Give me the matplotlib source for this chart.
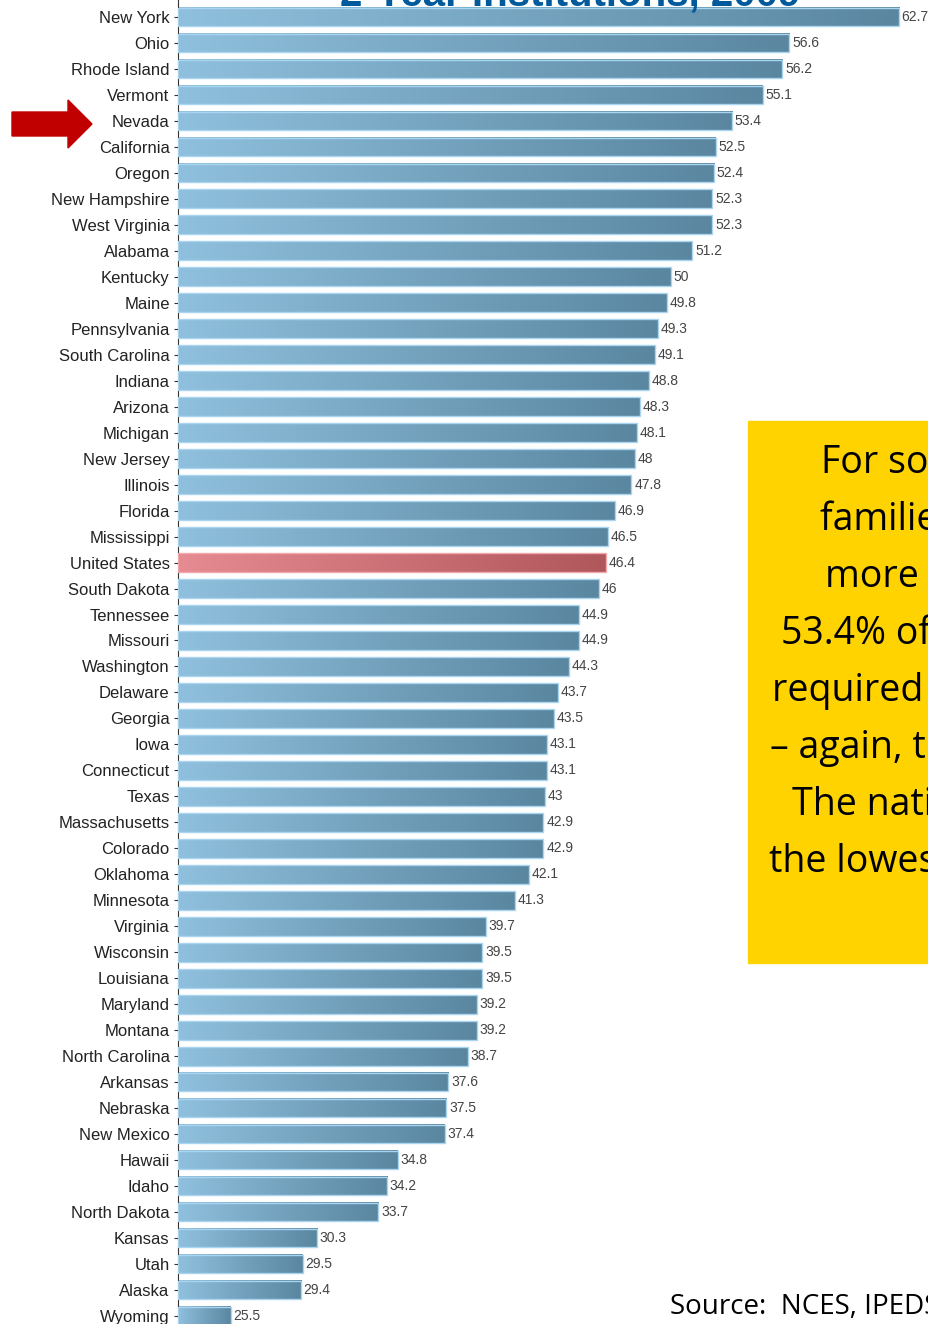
import numpy as np
import matplotlib
matplotlib.use("Agg")
import matplotlib.pyplot as plt
from matplotlib.colors import LinearSegmentedColormap
from matplotlib.patches import Rectangle, Polygon

# data (percent of income)
states = ["New York", "Ohio", "Rhode Island", "Vermont", "Nevada", "California",
          "Oregon", "New Hampshire", "West Virginia", "Alabama", "Kentucky", "Maine",
          "Pennsylvania", "South Carolina", "Indiana", "Arizona", "Michigan",
          "New Jersey", "Illinois", "Florida", "Mississippi", "United States",
          "South Dakota", "Tennessee", "Missouri", "Washington", "Delaware", "Georgia",
          "Iowa", "Connecticut", "Texas", "Massachusetts", "Colorado", "Oklahoma",
          "Minnesota", "Virginia", "Wisconsin", "Louisiana", "Maryland", "Montana",
          "North Carolina", "Arkansas", "Nebraska", "New Mexico", "Hawaii", "Idaho",
          "North Dakota", "Kansas", "Utah", "Alaska", "Wyoming"]
values = [62.7, 56.6, 56.2, 55.1, 53.4, 52.5, 52.4, 52.3, 52.3, 51.2, 50, 49.8,
          49.3, 49.1, 48.8, 48.3, 48.1, 48, 47.8, 46.9, 46.5, 46.4, 46, 44.9, 44.9,
          44.3, 43.7, 43.5, 43.1, 43.1, 43, 42.9, 42.9, 42.1, 41.3, 39.7, 39.5, 39.5,
          39.2, 39.2, 38.7, 37.6, 37.5, 37.4, 34.8, 34.2, 33.7, 30.3, 29.5, 29.4, 25.5]

title = "2-Year Institutions, 2009"
note_lines = ["For some", "families with", "more than", "53.4% of income",
              "required to pay", "– again, the", "The nation", "the lowest"]
source = "Source:  NCES, IPEDS"

W, H = 929, 1324
fig = plt.figure(figsize=(W / 100, H / 100), dpi=100)
ax = fig.add_axes([178 / W, 0, (W - 178) / W, 1])


def px(x, y):
    return (x / W, 1 - y / H)


blue = LinearSegmentedColormap.from_list("b", ["#8fc0dd", "#5a86a0"])
red = LinearSegmentedColormap.from_list("r", ["#e68b91", "#b0575c"])
grad = np.linspace(0, 1, 256).reshape(1, -1)

x0 = 22.55
h = 0.72
ypos = np.arange(len(states))
for y, v, s in zip(ypos, values, states):
    us = s == "United States"
    ax.imshow(grad, extent=[x0, v, y + h / 2, y - h / 2], aspect="auto",
              cmap=red if us else blue, zorder=2, interpolation="bicubic")
    ax.add_patch(Rectangle((x0, y - h / 2), v - x0, h, fill=False,
                           ec="#f2a9ad" if us else "#a9d5f0", lw=1, zorder=3))
    ax.text(v + 0.15, y, f"{v:g}", va="center", ha="left", fontsize=10,
            color="#444444", family="Liberation Sans")

ax.set_xlim(x0, 64.37)
ax.set_ylim(50.31, -0.654)
ax.set_yticks(ypos)
ax.set_yticklabels(states, fontsize=12, color="#222222", family="Liberation Sans")
ax.set_xticks([])
ax.tick_params(axis="y", length=3, width=0.8, color="#333333", pad=3)
for side in ["top", "right", "bottom"]:
    ax.spines[side].set_visible(False)
ax.spines["left"].set_color("#333333")
ax.spines["left"].set_linewidth(0.8)

# title, mostly cut off at the top
fig.text(*px(570, 5), title, ha="center", va="baseline", fontsize=29,
         fontweight="bold", color="#005a9c", family="Liberation Sans")

# red arrow pointing at Nevada
arrow = [(12, 112), (68, 112), (68, 100), (92, 124), (68, 148), (68, 136), (12, 136)]
fig.patches.append(Polygon([px(x, y) for x, y in arrow], closed=True,
                           transform=fig.transFigure, color="#c00000", zorder=5))

# yellow note box, cut off on the right
fig.patches.append(Rectangle(px(748, 963), (W - 748) / W + 0.05, (963 - 421) / H,
                             transform=fig.transFigure, color="#fed300", zorder=4))
starts = [821, 820, 825, 781, 772, 770, 792, 769]
for i, (line, xs) in enumerate(zip(note_lines, starts)):
    fig.text(*px(xs, 473 + 57 * i), line, ha="left", va="baseline", fontsize=27,
             color="black", family="Open Sans", zorder=6)

fig.text(*px(670, 1314), source, ha="left", va="baseline", fontsize=20,
         color="black", family="Open Sans")

fig.savefig("out.png", dpi=100)
